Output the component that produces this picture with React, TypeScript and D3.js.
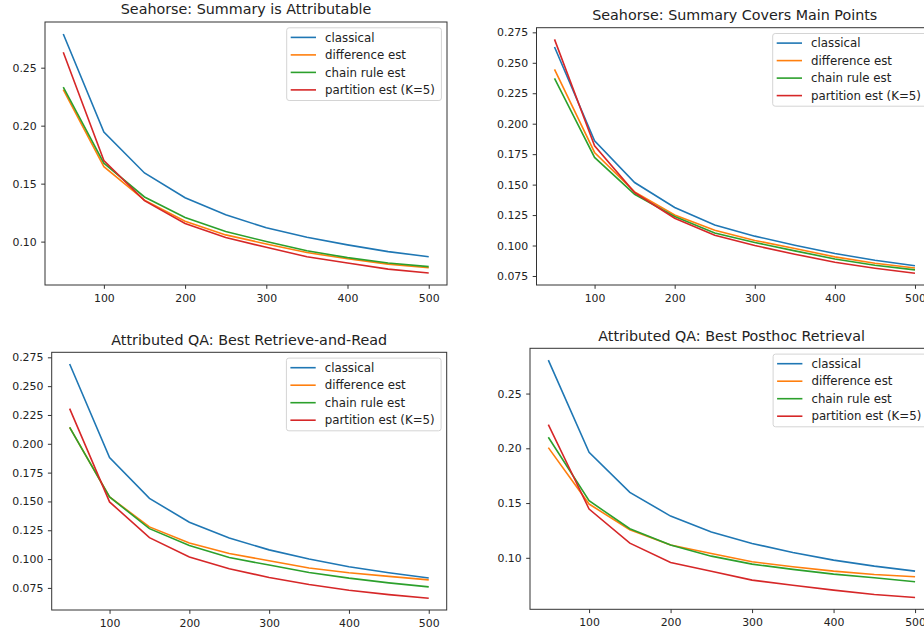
import React, { useEffect, useRef } from "react";
import * as d3 from "d3";

// sample sizes on the x axis
const sampleSizes = [50, 100, 150, 200, 250, 300, 350, 400, 450, 500];
const seriesNames = ["classical", "difference est", "chain rule est", "partition est (K=5)"];
const xTickValues = [100, 200, 300, 400, 500];
const yTicksCoarse = [0.1, 0.15, 0.2, 0.25];
const yTicksFine = [0.075, 0.1, 0.125, 0.15, 0.175, 0.2, 0.225, 0.25, 0.275];

// Seahorse: Summary is Attributable
const attribClassical = [0.2791, 0.1945, 0.1592, 0.1378, 0.1232, 0.1119, 0.1037, 0.0972, 0.0914, 0.087];
const attribDifference = [0.231, 0.1646, 0.1358, 0.1176, 0.1058, 0.098, 0.0906, 0.0852, 0.0806, 0.0775];
const attribChain = [0.2333, 0.1677, 0.1385, 0.1208, 0.1087, 0.1001, 0.0922, 0.0862, 0.0815, 0.0784];
const attribPartition = [0.2633, 0.17, 0.1353, 0.1156, 0.1035, 0.0951, 0.087, 0.0815, 0.0763, 0.0729];

// Seahorse: Summary Covers Main Points
const mainClassical = [0.263, 0.186, 0.1517, 0.1312, 0.1169, 0.1077, 0.1003, 0.0934, 0.0879, 0.0834];
const mainDifference = [0.2446, 0.1764, 0.144, 0.1251, 0.1125, 0.1042, 0.0975, 0.0907, 0.0855, 0.0816];
const mainChain = [0.2372, 0.1723, 0.1421, 0.1238, 0.1103, 0.1025, 0.0956, 0.089, 0.0838, 0.08];
const mainPartition = [0.2692, 0.1818, 0.1435, 0.1224, 0.1084, 0.1, 0.0929, 0.0863, 0.0814, 0.0772];

// Attributed QA: Best Retrieve-and-Read
const rrClassical = [0.2692, 0.188, 0.1527, 0.1319, 0.1182, 0.108, 0.1, 0.0933, 0.0881, 0.0836];
const rrDifference = [0.2143, 0.1539, 0.1279, 0.114, 0.1048, 0.0985, 0.0922, 0.0882, 0.085, 0.082];
const rrChain = [0.2143, 0.1539, 0.1264, 0.1117, 0.1013, 0.0948, 0.0884, 0.0835, 0.0794, 0.0759];
const rrPartition = [0.2305, 0.1496, 0.1186, 0.1019, 0.0917, 0.084, 0.0779, 0.073, 0.0692, 0.066];

// Attributed QA: Best Posthoc Retrieval
const phClassical = [0.2805, 0.1963, 0.1598, 0.1381, 0.1235, 0.1131, 0.1049, 0.0979, 0.0924, 0.0878];
const phDifference = [0.2006, 0.1491, 0.1256, 0.1116, 0.104, 0.0964, 0.0918, 0.0878, 0.0848, 0.0827];
const phChain = [0.2101, 0.1521, 0.1265, 0.1116, 0.1015, 0.0942, 0.0894, 0.0851, 0.0818, 0.0781];
const phPartition = [0.2216, 0.1445, 0.1134, 0.0957, 0.0878, 0.0796, 0.075, 0.0705, 0.0665, 0.0638];

const colors = ["#1f77b4", "#ff7f0e", "#2ca02c", "#d62728"];
const font = "DejaVu Sans, sans-serif";

const panels = [
  { title: "Seahorse: Summary is Attributable", series: [attribClassical, attribDifference, attribChain, attribPartition],
    yTicks: yTicksCoarse, fmt: ".2f", box: { left: 45, right: 447, top: 22, bottom: 285 } },
  { title: "Seahorse: Summary Covers Main Points", series: [mainClassical, mainDifference, mainChain, mainPartition],
    yTicks: yTicksFine, fmt: ".3f", box: { left: 536.5, right: 933, top: 27.7, bottom: 285 } },
  { title: "Attributed QA: Best Retrieve-and-Read", series: [rrClassical, rrDifference, rrChain, rrPartition],
    yTicks: yTicksFine, fmt: ".3f", box: { left: 51.7, right: 446.7, top: 352.3, bottom: 610 } },
  { title: "Attributed QA: Best Posthoc Retrieval", series: [phClassical, phDifference, phChain, phPartition],
    yTicks: yTicksCoarse, fmt: ".2f", box: { left: 530, right: 933.4, top: 348.3, bottom: 609.3 } },
];

// matplotlib-like 5% margins
const padded = (lo: number, hi: number) => {
  const m = (hi - lo) * 0.05;
  return [lo - m, hi + m];
};

const App = () => {
  const svgRef = useRef<SVGSVGElement>(null);

  useEffect(() => {
    const svg = d3.select(svgRef.current);
    svg.selectAll("*").remove();

    panels.forEach(p => {
      const b = p.box;
      const g = svg.append("g");

      const [x0, x1] = d3.extent(sampleSizes) as number[];
      const all = p.series.flat();
      const x = d3.scaleLinear().domain(padded(x0, x1)).range([b.left, b.right]);
      const y = d3.scaleLinear()
        .domain(padded(d3.min(all) as number, d3.max(all) as number))
        .range([b.bottom, b.top]);

      // lines
      const line = d3.line<number>()
        .x((_, i) => x(sampleSizes[i]))
        .y(d => y(d));
      p.series.forEach((s, i) => {
        g.append("path")
          .attr("d", line(s))
          .attr("fill", "none")
          .attr("stroke", colors[i])
          .attr("stroke-width", 1.6);
      });

      // spines
      g.append("rect")
        .attr("x", b.left).attr("y", b.top)
        .attr("width", b.right - b.left).attr("height", b.bottom - b.top)
        .attr("fill", "none").attr("stroke", "#333").attr("stroke-width", 1);

      // axes
      const xa = g.append("g")
        .attr("transform", `translate(0,${b.bottom})`)
        .call(d3.axisBottom(x).tickValues(xTickValues).tickSize(3.8).tickSizeOuter(0).tickPadding(5).tickFormat(d3.format("d")));
      const ya = g.append("g")
        .attr("transform", `translate(${b.left},0)`)
        .call(d3.axisLeft(y).tickValues(p.yTicks).tickSize(3.8).tickSizeOuter(0).tickPadding(4.5).tickFormat(d3.format(p.fmt)));
      [xa, ya].forEach(a => {
        a.select(".domain").remove();
        a.selectAll("line").attr("stroke", "#333");
        a.selectAll("text").attr("fill", "#222").style("font-family", font).style("font-size", "10.9px");
      });

      // title
      g.append("text")
        .attr("x", (b.left + b.right) / 2)
        .attr("y", b.top - 7.7)
        .attr("text-anchor", "middle")
        .attr("fill", "#222")
        .style("font-family", font)
        .style("font-size", "14.3px")
        .text(p.title);

      // legend
      const lw = 154.7, lh = 72.7;
      const lg = g.append("g").attr("transform", `translate(${b.right - 5.6 - lw},${b.top + 5.8})`);
      lg.append("rect")
        .attr("width", lw).attr("height", lh).attr("rx", 2.5)
        .attr("fill", "white").attr("fill-opacity", 0.8)
        .attr("stroke", "#d4d4d4");
      seriesNames.forEach((name, i) => {
        const ly = 9.6 + i * 17.5;
        lg.append("line")
          .attr("x1", 4).attr("x2", 29.3).attr("y1", ly).attr("y2", ly)
          .attr("stroke", colors[i]).attr("stroke-width", 1.6);
        lg.append("text")
          .attr("x", 38.3).attr("y", ly).attr("dy", "0.36em")
          .attr("fill", "#222")
          .style("font-family", font)
          .style("font-size", "11.8px")
          .text(name);
      });
    });
  }, []);

  return (
    <svg ref={svgRef} width={924} height={634}
      style={{ position: "absolute", left: 0, top: 0, background: "white" }} />
  );
};

export default App;
